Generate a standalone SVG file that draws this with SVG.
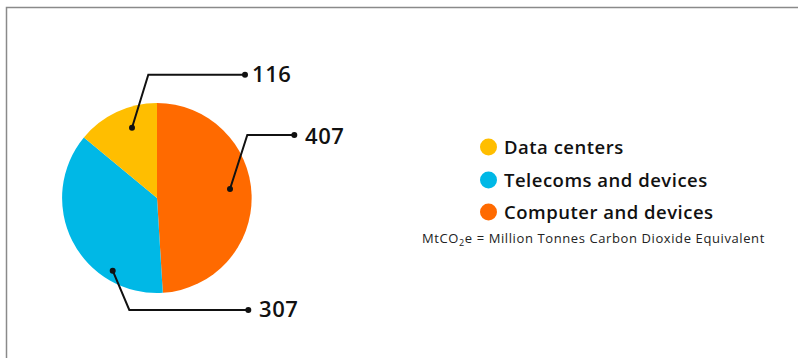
<svg xmlns="http://www.w3.org/2000/svg" width="798" height="358" viewBox="0 0 798 358">
<style>
.frame{fill:none;stroke:#8a8a8a;stroke-width:1.5}
.lead{fill:none;stroke:#111;stroke-width:2}
.dot{fill:#111}
.num{font-family:"Open Sans","Liberation Sans",sans-serif;font-size:22px;font-weight:600;letter-spacing:0.6px;fill:#111}
.leg{font-family:"Open Sans","Liberation Sans",sans-serif;font-size:18.5px;font-weight:600;letter-spacing:0.5px;fill:#111}
.note{font-family:"Open Sans","Liberation Sans",sans-serif;font-size:13px;letter-spacing:0.6px;fill:#222}
</style>
<rect width="798" height="358" fill="#fff"/>
<path class="frame" d="M6.5 358 V7.5 H798"/>
<g id="pie">
<path d="M157 198 L157 103 A95 95 0 0 1 162.8 292.8 Z" fill="#ff6a00"/>
<path d="M157 198 L162.8 292.8 A95 95 0 0 1 83.9 137.4 Z" fill="#00b8e6"/>
<path d="M157 198 L83.9 137.4 A95 95 0 0 1 157 103 Z" fill="#ffbe00"/>
</g>
<g id="connectors">
<path class="lead" d="M132 127.7 L148.3 74.7 H245"/>
<circle class="dot" cx="132" cy="127.7" r="3"/><circle class="dot" cx="245" cy="74.7" r="3"/>
<path class="lead" d="M230 189 L247.3 135 H294.3"/>
<circle class="dot" cx="230" cy="189" r="3"/><circle class="dot" cx="294.3" cy="135" r="3"/>
<path class="lead" d="M112.7 270.7 L129.3 310 H248.3"/>
<circle class="dot" cx="112.7" cy="270.7" r="3"/><circle class="dot" cx="248.3" cy="310" r="3"/>
</g>
<g id="label-116"><text class="num" x="252" y="81.5">116</text></g>
<g id="label-407"><text class="num" x="305" y="144">407</text></g>
<g id="label-307"><text class="num" x="259" y="317">307</text></g>
<g id="legend-data-centers"><circle cx="488.5" cy="147" r="8.5" fill="#ffbe00"/><text class="leg" x="504" y="154">Data centers</text></g>
<g id="legend-telecoms"><circle cx="488.5" cy="180" r="8.5" fill="#00b8e6"/><text class="leg" x="504" y="187">Telecoms and devices</text></g>
<g id="legend-computer"><circle cx="488.5" cy="212" r="8.5" fill="#ff6a00"/><text class="leg" x="504" y="219">Computer and devices</text></g>
<g id="note"><text class="note" x="422" y="243">MtCO<tspan dy="3" font-size="9">2</tspan><tspan dy="-3">e = Million Tonnes Carbon Dioxide Equivalent</tspan></text></g>
</svg>
